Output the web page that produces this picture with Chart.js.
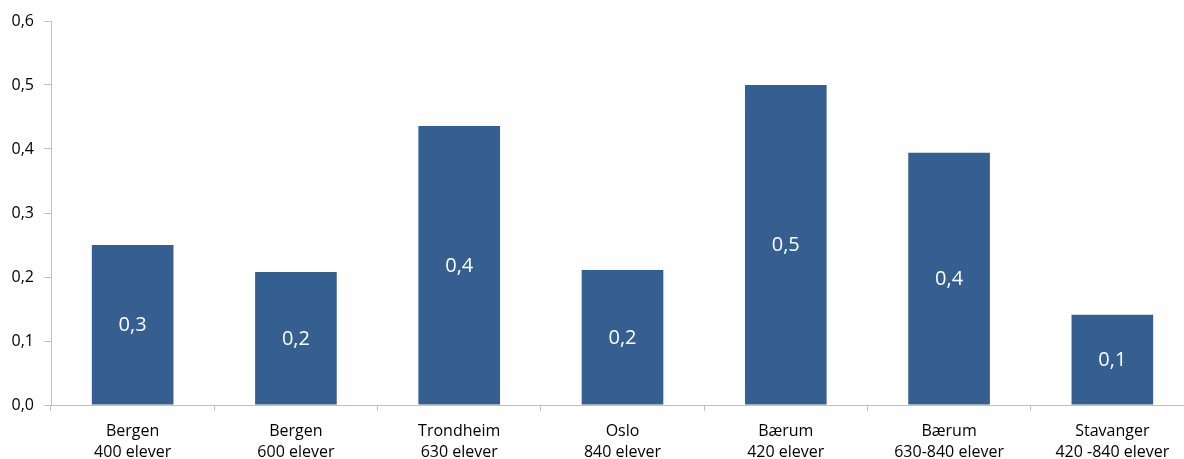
<!DOCTYPE html>
<html><head><meta charset="utf-8">
<script src="https://cdn.jsdelivr.net/npm/chart.js@4/dist/chart.umd.min.js"></script>
<style>html,body{margin:0;padding:0;overflow:hidden;background:#fff}#wrap{width:1196px;height:459px}</style>
</head><body><div id="wrap"><canvas id="c" width="1196" height="459"></canvas></div>
<script>
const categories = [["Bergen","400 elever"],["Bergen","600 elever"],["Trondheim","630 elever"],["Oslo","840 elever"],["Bærum","420 elever"],["Bærum","630-840 elever"],["Stavanger","420 -840 elever"]];
const values = [0.25, 0.208, 0.436, 0.211, 0.5, 0.394, 0.141];
const yTicks = [0, 0.1, 0.2, 0.3, 0.4, 0.5, 0.6];
const fmt = v => v.toFixed(1).replace('.', ',');
const FONT = "'Open Sans', 'Liberation Sans', sans-serif";

const labelPlugin = {
  id: 'barLabels',
  afterDatasetsDraw(chart) {
    const ctx = chart.ctx;
    const meta = chart.getDatasetMeta(0);
    ctx.save();
    ctx.fillStyle = '#ffffff';
    ctx.font = "20px " + FONT;
    ctx.textAlign = 'center';
    ctx.textBaseline = 'middle';
    meta.data.forEach((bar, i) => {
      const y = (bar.y + bar.base) / 2;
      ctx.fillText(fmt(values[i]), bar.x, y + 1);
    });
    ctx.restore();
  }
};

new Chart(document.getElementById('c'), {
  type: 'bar',
  data: { labels: categories, datasets: [{ data: values, backgroundColor: '#365F91', barPercentage: 0.5, categoryPercentage: 1.0 }] },
  options: {
    responsive: false, animation: false,
    layout: { padding: { top: 21, right: 2, left: 0, bottom: 0 } },
    plugins: { legend: { display: false }, tooltip: { enabled: false } },
    scales: {
      x: {
        grid: { display: true, drawOnChartArea: false, drawTicks: true, tickLength: 6, color: '#bfbfbf', offset: true },
        border: { color: '#bfbfbf' },
        ticks: { color: '#000', font: { family: FONT, size: 16, lineHeight: 1.33 }, padding: 10, maxRotation: 0 },
        afterFit(s) { s.height = 54; }
      },
      y: {
        min: 0, max: 0.6,
        afterBuildTicks(s) { s.ticks = yTicks.map(v => ({ value: v })); },
        grid: { display: true, drawOnChartArea: false, drawTicks: true, tickLength: 7, color: '#bfbfbf' },
        border: { color: '#bfbfbf' },
        ticks: { color: '#000', font: { family: FONT, size: 16 }, padding: 10, callback: v => fmt(v) },
        afterFit(s) { s.width = 51; }
      }
    }
  },
  plugins: [labelPlugin]
});
</script></body></html>
